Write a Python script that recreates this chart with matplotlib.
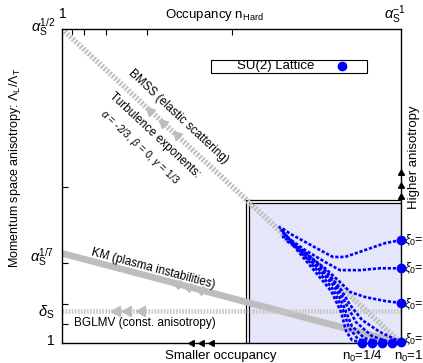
import matplotlib
matplotlib.use("Agg")
import matplotlib.pyplot as plt
from matplotlib.patches import Rectangle

plt.rcParams['font.family'] = ['Liberation Sans', 'DejaVu Sans']
plt.rcParams['mathtext.fontset'] = 'custom'
plt.rcParams['mathtext.rm'] = 'Liberation Sans'
plt.rcParams['mathtext.it'] = 'Liberation Sans:italic'
plt.rcParams['mathtext.sf'] = 'Liberation Sans'

# ---- data (x: log occupancy fraction 0..1, y: anisotropy exponent 0..1/2) ----
bmss_x = [0.0, 1.0]
bmss_y = [0.5, 0.0]
km_x = [0.0, 1.0]
km_y = [1 / 7, 0.0]
bglmv_x = [0.0, 1.0]
bglmv_y = [0.051, 0.051]

bmss_arrow_x = [0.26, 0.298, 0.339]
km_arrow_x = [0.339, 0.372, 0.407]
bglmv_arrow_x = [0.162, 0.195, 0.236]
bottom_arrow_x = [0.383, 0.413, 0.442]
right_arrow_y = [0.270, 0.250, 0.232]

top_ticks = [0.0295, 0.065, 0.130, 0.251, 0.501]
left_ticks = [0.030, 0.062, 0.127, 0.248]

# lattice trajectories (start point first)
traj_x = [
    [1.0, 0.953, 0.894, 0.835, 0.799, 0.761, 0.717, 0.673, 0.649],
    [1.0, 0.938, 0.879, 0.820, 0.776, 0.717, 0.667, 0.643],
    [1.0, 0.953, 0.894, 0.850, 0.820, 0.776, 0.717, 0.658],
    [1.0, 0.938, 0.885, 0.850, 0.820, 0.776, 0.717, 0.658],
    [0.973, 0.914, 0.867, 0.838, 0.808, 0.761, 0.702, 0.652],
    [0.944, 0.891, 0.855, 0.832, 0.805, 0.755, 0.696, 0.646],
    [0.914, 0.873, 0.847, 0.829, 0.799, 0.749, 0.690, 0.643],
    [0.885, 0.855, 0.838, 0.823, 0.794, 0.743, 0.684, 0.640],
]
traj_y = [
    [0.164, 0.159, 0.148, 0.137, 0.137, 0.148, 0.161, 0.174, 0.183],
    [0.119, 0.119, 0.116, 0.116, 0.129, 0.148, 0.167, 0.170],
    [0.0637, 0.0669, 0.0732, 0.0812, 0.0971, 0.119, 0.143, 0.164],
    [0.0016, 0.0175, 0.0366, 0.0605, 0.0876, 0.116, 0.145, 0.167],
    [0.0, 0.0111, 0.0334, 0.0621, 0.0924, 0.119, 0.148, 0.175],
    [0.0, 0.0080, 0.0271, 0.0573, 0.0892, 0.119, 0.151, 0.180],
    [0.0, 0.0064, 0.0239, 0.0525, 0.0860, 0.118, 0.153, 0.183],
    [0.0, 0.0048, 0.0191, 0.0494, 0.0828, 0.116, 0.154, 0.186],
]
xi_labels = [r"$\xi_0$=", r"$\xi_0$=", r"$\xi_0$=", r"$\xi_0$="]
xi_y = [0.164, 0.119, 0.062, 0.006]

fig = plt.figure(figsize=(4.23, 3.63), dpi=100)
ax = fig.add_axes([62 / 423, 20 / 363, 339 / 423, 314 / 363])
ax.set_xlim(0, 1)
ax.set_ylim(0, 0.5)

ax.xaxis.tick_top()
ax.set_xticks(top_ticks)
ax.set_xticklabels([])
ax.set_yticks(left_ticks)
ax.set_yticklabels([])
ax.tick_params(direction='in', length=4, width=0.8)
for s in ax.spines.values():
    s.set_linewidth(1.0)

# lattice region
ax.add_patch(Rectangle((0.552, 0.0), 0.448, 0.2229, facecolor='#e6e6fa',
                       edgecolor='none', zorder=0))
ax.plot([0.543, 0.543, 1.0], [0.0, 0.2277, 0.2277], color='black', lw=0.9, zorder=1)
ax.plot([0.552, 0.552, 1.0], [0.0, 0.2229, 0.2229], color='black', lw=0.9, zorder=1)

gray = '#bdbdbd'
# BMSS
ax.plot(bmss_x, bmss_y, color=gray, lw=4.0, ls=(0, (0.35, 0.3)), zorder=2,
        solid_capstyle='butt')
for xa in bmss_arrow_x:
    ax.plot([xa], [0.5 * (1 - xa)], marker=(3, 0, 47), color=gray, ms=7.5, zorder=2)
# KM
ax.plot(km_x, km_y, color=gray, lw=4.8, zorder=2, solid_capstyle='butt')
for xa in km_arrow_x:
    ax.plot([xa], [(1 / 7) * (1 - xa)], marker=(3, 0, 75), color=gray, ms=7.5, zorder=2)
# BGLMV
ax.plot(bglmv_x, bglmv_y, color='#c8c8c8', lw=3.4, ls=(0, (0.35, 0.3)), zorder=2)
for xa in bglmv_arrow_x:
    ax.plot([xa], [bglmv_y[0]], marker=(3, 0, 90), color=gray, ms=8.5, zorder=2)

# axis arrows
for xa in bottom_arrow_x:
    ax.plot([xa], [0.0], marker=(3, 0, 90), color='black', ms=5, clip_on=False, zorder=5)
for ya in right_arrow_y:
    ax.plot([1.0], [ya], marker=(3, 0, 0), color='black', ms=5, clip_on=False, zorder=5)

# lattice trajectories
for tx, ty in zip(traj_x, traj_y):
    ax.plot(tx, ty, color='#0000ff', lw=1.9, ls=(0, (1.2, 0.7)), zorder=3, clip_on=False)
    ax.plot([tx[0]], [ty[0]], marker='o', color='#0000ff', ms=6, zorder=4, clip_on=False)

# legend
ax.add_patch(Rectangle((0.440, 0.430), 0.460, 0.0206, facecolor='white',
                       edgecolor='black', lw=0.8, zorder=4))
ax.text(0.631, 0.4403, "SU(2) Lattice", ha='center', va='center', fontsize=9.5, zorder=5)
ax.plot([0.826], [0.4403], marker='o', color='#0000ff', ms=6, zorder=5)

# texts
kw = dict(clip_on=False)
ax.text(0.451, 0.522, r"Occupancy n$_{\rm Hard}$", ha='center', va='center', fontsize=9.5, **kw)
ax.text(0.003, 0.524, "1", ha='center', va='center', fontsize=10, **kw)
ax.text(0.982, 0.522, r"$\alpha_{\rm S}^{-1}$", ha='center', va='center', fontsize=10.5, **kw)
ax.text(-0.055, 0.503, r"$\alpha_{\rm S}^{1/2}$", ha='center', va='center', fontsize=10.5, **kw)
ax.text(-0.058, 0.137, r"$\alpha_{\rm S}^{1/7}$", ha='center', va='center', fontsize=10.5, **kw)
ax.text(-0.048, 0.049, r"$\delta_{\rm S}$", ha='center', va='center', fontsize=10.5, **kw)
ax.text(-0.032, 0.003, "1", ha='center', va='center', fontsize=10, **kw)
ax.text(-0.139, 0.279, r"Momentum space anisotropy: $\Lambda_{\rm L}/\Lambda_{\rm T}$",
        rotation=90, ha='center', va='center', fontsize=9, **kw)
ax.text(0.469, -0.0207, "Smaller occupancy", ha='center', va='center', fontsize=9.5, **kw)
ax.text(0.885, -0.0207, r"n$_0$=1/4", ha='center', va='center', fontsize=9.5, **kw)
ax.text(1.024, -0.0207, r"n$_0$=1", ha='center', va='center', fontsize=9.5, **kw)
ax.text(1.038, 0.296, "Higher anisotropy", rotation=90, ha='center', va='center',
        fontsize=9.5, **kw)
for lab, yv in zip(xi_labels, xi_y):
    ax.text(1.010, yv, lab, ha='left', va='center', fontsize=9, **kw)

ax.text(0.342, 0.360, "BMSS (elastic scattering)", rotation=-43, rotation_mode='anchor',
        ha='center', va='center', fontsize=8.5)
ax.text(0.274, 0.331, "Turbulence exponents:", rotation=-43, rotation_mode='anchor',
        ha='center', va='center', fontsize=8.5)
ax.text(0.230, 0.311, r"$\alpha$ = -2/3, $\beta$ = 0, $\gamma$ = 1/3", rotation=-43,
        rotation_mode='anchor', ha='center', va='center', fontsize=7.5)
ax.text(0.268, 0.118, "KM (plasma instabilities)", rotation=-15, rotation_mode='anchor',
        ha='center', va='center', fontsize=8.5)
ax.text(0.245, 0.032, "BGLMV (const. anisotropy)", ha='center', va='center', fontsize=8.5)

fig.savefig("out.png", dpi=100)
